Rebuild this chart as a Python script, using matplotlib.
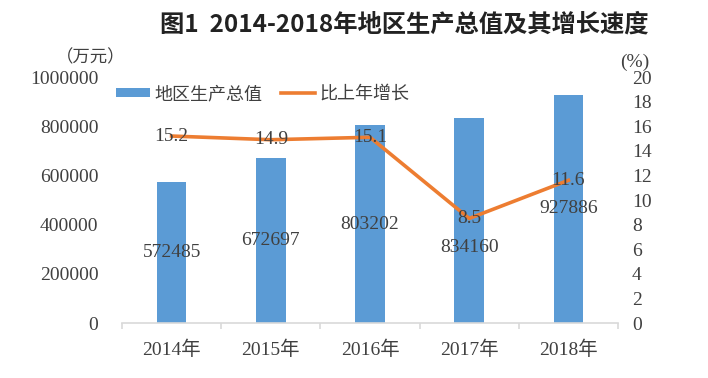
import matplotlib
matplotlib.use("Agg")
import matplotlib.pyplot as plt
import numpy as np

years = ["2014年", "2015年", "2016年", "2017年", "2018年"]
gdp = [572485, 672697, 803202, 834160, 927886]
growth = [15.2, 14.9, 15.1, 8.5, 11.6]

FONT = ['Liberation Serif', 'Noto Sans CJK SC', 'DejaVu Sans']
plt.rcParams['font.family'] = FONT

BAR = '#5B9BD5'
LINE = '#ED7D31'
TXT = '#404040'

fig = plt.figure(figsize=(7.08, 3.78), dpi=100)
ax = fig.add_axes([122/708, 1-323/378, (618-122)/708, (323-77)/378])
x = np.arange(len(years))
ax.bar(x, gdp, width=0.30, color=BAR, label='地区生产总值', zorder=2)
ax.set_xlim(-0.5, 4.5)
ax.set_ylim(0, 1000000)
ax.set_yticks(np.arange(0, 1000001, 200000))
ax.set_yticklabels([str(v) for v in range(0, 1000001, 200000)], fontsize=14, color=TXT)
ax.set_xticks(x)
ax.set_xticklabels(years, fontsize=14, color=TXT)
ax.set_xticks(np.arange(-0.5, 5, 1), minor=True)
ax.tick_params(axis='x', which='major', length=0, pad=13)
ax.tick_params(axis='x', which='minor', length=4, color='#D9D9D9', width=1.2, direction='out')
ax.tick_params(axis='y', length=0, pad=17)
for s in ['top', 'right', 'left']:
    ax.spines[s].set_visible(False)
ax.spines['bottom'].set_color('#D9D9D9')
ax.spines['bottom'].set_linewidth(1.2)

ax2 = ax.twinx()
ax2.plot(x, growth, color=LINE, linewidth=2.6, label='比上年增长', zorder=3,
         solid_joinstyle='miter')
ax2.set_ylim(0, 20)
ax2.set_yticks(np.arange(0, 21, 2))
ax2.set_yticklabels([str(v) for v in range(0, 21, 2)], fontsize=14, color=TXT)
ax2.tick_params(axis='y', length=0, pad=10)
for s in ['top', 'right', 'left', 'bottom']:
    ax2.spines[s].set_visible(False)

# bar value labels (centered in bar), drawn on top axis so they sit over the line
offsets = [0, 0, 0, -110000, 0]
for xi, v, off in zip(x, gdp, offsets):
    ax2.text(xi, (v/2 + off) / 50000, str(v), ha='center', va='center', fontsize=14,
             color=TXT, zorder=5)
for xi, v in zip(x, growth):
    ax2.text(xi, v, str(v), ha='center', va='center', fontsize=14, color=TXT, zorder=5)

h1, l1 = ax.get_legend_handles_labels()
h2, l2 = ax2.get_legend_handles_labels()
leg = fig.legend(h1 + h2, l1 + l2, loc='upper left', bbox_to_anchor=(116/708, 1-85/378), ncol=2,
                 frameon=False, prop={'family': ['Noto Sans CJK SC'], 'size': 13},
                 handlelength=1.9, handleheight=0.45, columnspacing=1.0, handletextpad=0.25,
                 borderpad=0, borderaxespad=0)
for t in leg.get_texts():
    t.set_color(TXT)

fig.text(404/708, 1-25/378, '图1  2014-2018年地区生产总值及其增长速度', ha='center', va='center',
         fontsize=17.5, fontweight='bold', family=['Noto Sans CJK SC', 'DejaVu Sans'], color='#222222')
fig.text(91/708, 1-57/378, '（万元）', ha='center', va='center', fontsize=12.5,
         family=['Noto Sans CJK SC'], color=TXT)
fig.text(635/708, 1-62/378, '(%)', ha='center', va='center', fontsize=14, color=TXT)

fig.savefig('out.png', dpi=100)
